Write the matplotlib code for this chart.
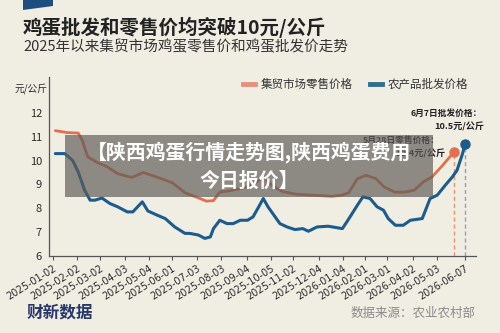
import matplotlib
matplotlib.use("Agg")
import matplotlib.pyplot as plt
from matplotlib.lines import Line2D
from matplotlib.patches import Polygon, Rectangle
import pandas as pd

plt.rcParams['font.family'] = ['Noto Sans CJK SC', 'DejaVu Sans']

BG = "#f0ede3"
ORANGE = "#e2704f"
BLUE = "#1b5c8d"

retail_dates = [
    "2025-01-05", "2025-01-20", "2025-02-03", "2025-02-08", "2025-02-15",
    "2025-02-27", "2025-03-11", "2025-03-25", "2025-04-12", "2025-04-26",
    "2025-05-14", "2025-06-02", "2025-06-18", "2025-07-07", "2025-07-15",
    "2025-07-24", "2025-08-01", "2025-08-13", "2025-08-23", "2025-09-04",
    "2025-09-16", "2025-09-26", "2025-10-06", "2025-10-19", "2025-11-06",
    "2025-11-26", "2025-12-21", "2026-01-02", "2026-01-11", "2026-01-22",
    "2026-02-02", "2026-02-14", "2026-02-25", "2026-03-10", "2026-03-23",
    "2026-04-04", "2026-04-16", "2026-04-26", "2026-05-08", "2026-05-24",
]
retail_vals = [
    11.25, 11.17, 11.15, 10.85, 10.15,
    9.92, 9.75, 9.45, 9.29, 9.50,
    9.30, 9.07, 8.65, 8.41, 8.30,
    8.32, 8.68, 8.73, 8.80, 8.88,
    9.10, 9.28, 8.96, 8.70, 8.59,
    8.55, 8.50, 8.55, 8.65, 9.24,
    9.38, 9.25, 8.89, 8.68, 8.68,
    8.76, 9.12, 9.30, 9.73, 10.35,
]

wholesale_dates = [
    "2025-01-05", "2025-01-17", "2025-01-27", "2025-02-03", "2025-02-11",
    "2025-02-18", "2025-02-24", "2025-03-05", "2025-03-15", "2025-03-25",
    "2025-04-06", "2025-04-13", "2025-04-25", "2025-05-02", "2025-05-14",
    "2025-05-24", "2025-06-05", "2025-06-18", "2025-06-24", "2025-07-05",
    "2025-07-13", "2025-07-20", "2025-07-24", "2025-08-01", "2025-08-10",
    "2025-08-18", "2025-08-27", "2025-09-05", "2025-09-12", "2025-09-18",
    "2025-09-25", "2025-10-01", "2025-10-07", "2025-10-16", "2025-10-25",
    "2025-11-04", "2025-11-14", "2025-11-21", "2025-12-02", "2025-12-16",
    "2026-01-03", "2026-01-10", "2026-01-22", "2026-01-29", "2026-02-07",
    "2026-02-16", "2026-02-24", "2026-03-02", "2026-03-11", "2026-03-21",
    "2026-03-30", "2026-04-14", "2026-04-24", "2026-05-03", "2026-05-13",
    "2026-05-22", "2026-05-28", "2026-06-04", "2026-06-07",
]
wholesale_vals = [
    10.29, 10.29, 10.00, 9.52, 8.76,
    8.34, 8.34, 8.43, 8.20, 8.06,
    7.85, 7.85, 8.27, 7.89, 7.71,
    7.57, 7.22, 6.95, 6.95, 6.88,
    6.74, 6.80, 7.15, 7.50, 7.36,
    7.36, 7.50, 7.50, 7.64, 7.99,
    8.41, 8.06, 7.78, 7.36, 7.22,
    7.11, 7.15, 7.04, 7.22, 7.25,
    7.15, 7.50, 8.13, 8.48, 8.41,
    8.06, 7.92, 7.57, 7.29, 7.29,
    7.50, 7.57, 8.41, 8.55, 8.96,
    9.31, 9.59, 10.29, 10.68,
]

tick_dates = [
    "2025-01-02", "2025-02-02", "2025-03-02", "2025-04-03", "2025-05-04",
    "2025-06-01", "2025-07-03", "2025-08-03", "2025-09-04", "2025-10-05",
    "2025-11-02", "2025-12-04", "2026-01-04", "2026-02-01", "2026-03-01",
    "2026-04-02", "2026-05-03", "2026-06-07",
]
y_ticks = [6, 7, 8, 9, 10, 11, 12]

rd = pd.to_datetime(retail_dates)
wd = pd.to_datetime(wholesale_dates)
td = pd.to_datetime(tick_dates)

fig = plt.figure(figsize=(5.0, 3.33), dpi=100, facecolor=BG)
ax = fig.add_axes([0.098, 0.231, 0.854, 0.538])
ax.set_facecolor(BG)

ax.plot(rd, retail_vals, color=ORANGE, lw=2.0, solid_joinstyle="round",
        solid_capstyle="round", zorder=3)
ax.plot(wd, wholesale_vals, color=BLUE, lw=2.2, solid_joinstyle="round",
        solid_capstyle="round", zorder=3)

# end markers and drop lines
ax.plot(rd[-1:], retail_vals[-1:], "o", color=ORANGE, ms=6.5, zorder=4)
ax.plot(wd[-1:], wholesale_vals[-1:], "o", color=BLUE, ms=6.5, zorder=4)
ax.vlines(rd[-1], 6, retail_vals[-1], colors="#e8946f", lw=1.0,
          linestyles=(0, (3, 2)), zorder=2)
ax.vlines(wd[-1], 6, wholesale_vals[-1], colors="#86a3c8", lw=1.0,
          linestyles=(0, (3, 2)), zorder=2)

ax.set_ylim(6, 13.5)
ax.set_xlim(pd.Timestamp("2024-12-28"), pd.Timestamp("2026-06-21"))
ax.set_yticks(y_ticks)
ax.set_yticklabels([str(v) for v in y_ticks])
ax.set_xticks(td)
ax.set_xticklabels([d.strftime("%Y-%m-%d") for d in td], rotation=32,
                   ha="right", rotation_mode="anchor", fontsize=7,
                   color="#2a2a2a", family="DejaVu Sans")
ax.tick_params(axis="y", length=0, labelsize=8, colors="#2a2a2a", pad=5)
ax.tick_params(axis="x", length=3, width=0.8, color="#555555", pad=2)
for side in ("top", "right"):
    ax.spines[side].set_visible(False)
for side in ("left", "bottom"):
    ax.spines[side].set_color("#555555")
    ax.spines[side].set_linewidth(0.9)

# annotations
fig.text(482 / 500, 1 - 113 / 333, "6月7日批发价格：", ha="right", va="center",
         fontsize=6.3, fontweight="bold", color="#222222")
fig.text(484 / 500, 1 - 127 / 333, "10.5元/公斤", ha="right", va="center",
         fontsize=6.6, fontweight="bold", color="#222222")
fig.text(440 / 500, 1 - 140 / 333, "5月28日零售价格：", ha="right", va="center",
         fontsize=6.3, fontweight="bold", color="#222222")
fig.text(445 / 500, 1 - 154 / 333, "10.4元/公斤", ha="right", va="center",
         fontsize=6.6, fontweight="bold", color="#222222")

# header
fig.add_artist(Polygon([(23 / 500, 1.0), (53 / 500, 1.0), (53 / 500, 1 - 6 / 333),
                        (23 / 500, 1 - 10 / 333)], closed=True,
                       transform=fig.transFigure, facecolor="#1d4e7e",
                       edgecolor="none"))
fig.text(0.046, 1 - 27 / 333, "鸡蛋批发和零售价均突破10元/公斤", ha="left",
         va="center", fontsize=14, fontweight="bold", color="#222222")
fig.text(0.046, 1 - 47 / 333, "2025年以来集贸市场鸡蛋零售价和鸡蛋批发价走势",
         ha="left", va="center", fontsize=10.5, color="#333333")

# legend
ly = 1 - 84 / 333
fig.add_artist(Line2D([243 / 500, 255 / 500], [ly, ly], lw=3.5,
                      color="#e8907e", transform=fig.transFigure))
fig.text(261 / 500, ly, "集贸市场零售价格", ha="left", va="center",
         fontsize=8.3, color="#333333")
fig.add_artist(Line2D([370 / 500, 382 / 500], [ly, ly], lw=3.5,
                      color="#2e6e8e", transform=fig.transFigure))
fig.text(388 / 500, ly, "农产品批发价格", ha="left", va="center",
         fontsize=8.3, color="#333333")

fig.text(15 / 500, 1 - 89 / 333, "元/公斤", ha="left", va="center",
         fontsize=7, color="#2a2a2a")

# footer
fig.text(27 / 500, 1 - 312 / 333, "财新数据", ha="left", va="center",
         fontsize=12, fontweight="bold", color="#27376a")
fig.text(476 / 500, 1 - 313 / 333, "数据来源：农业农村部", ha="right",
         va="center", fontsize=9, color="#8a8a8a")

# grey overlay banner
fig.add_artist(Rectangle((65 / 500, 1 - 197 / 333), 368 / 500, 62 / 333,
                         transform=fig.transFigure, facecolor="#5e5c57",
                         alpha=0.68, edgecolor="none", zorder=10))
fig.text(249 / 500, 1 - 166 / 333, "【陕西鸡蛋行情走势图,陕西鸡蛋费用\n今日报价】",
         ha="center", va="center", ma="center", fontsize=14.3,
         fontweight="bold", color="white", linespacing=1.4, zorder=11)

fig.savefig("out.png", dpi=100, facecolor=BG)
